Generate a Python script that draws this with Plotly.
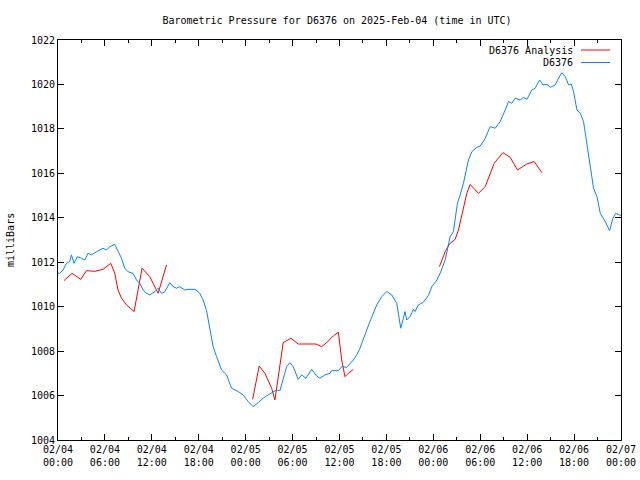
import pandas as pd
import plotly.graph_objects as go

BASE = pd.Timestamp("2025-02-04 00:00")

# Station observations (hours after 2025-02-04 00:00 UTC, pressure in mb)
obs_hours = [0.0, 0.2, 0.64, 1.08, 1.5, 1.72, 2.05, 2.48, 3.0, 3.42, 3.84, 4.28, 4.92, 5.34, 5.76,
             6.2, 6.62, 7.26, 7.68, 8.12, 8.54, 8.96, 9.6, 10.04, 10.46, 10.88, 11.32, 11.74,
             12.38, 12.8, 13.24, 13.66, 14.3, 14.72, 15.16, 15.58, 16.22, 16.64, 17.5, 18.14,
             18.56, 19.0, 19.42, 19.84, 20.28, 20.92, 21.56, 22.2, 23.04, 23.68, 24.32, 24.96,
             25.6, 26.24, 26.88, 27.52, 27.96, 28.38, 28.8, 29.24, 29.66, 30.08, 30.72, 31.16,
             31.71, 32.44, 33.08, 33.5, 34.14, 34.78, 35.0, 35.85, 36.28, 36.92, 37.77, 38.2,
             38.62, 39.05, 39.48, 39.9, 40.33, 40.76, 41.4, 42.04, 42.68, 43.32, 43.53, 43.83,
             44.17, 44.38, 44.6, 45.02, 45.45, 45.66, 46.09, 46.73, 47.37, 47.8, 48.45, 48.87,
             49.51, 50.15, 50.57, 51.08, 51.43, 51.85, 52.49, 52.93, 53.57, 54.0, 54.63, 55.27,
             55.91, 56.55, 57.19, 57.61, 58.04, 58.47, 59.1, 59.53, 59.96, 60.6, 61.03, 61.58,
             62.01, 62.53, 62.95, 63.59, 64.01, 64.44, 64.87, 65.29, 65.64, 65.93, 66.37, 66.79,
             67.21, 67.65, 68.07, 68.49, 68.93, 69.35, 69.99, 70.54, 70.97, 71.3, 71.81, 72.0]
obs_values = [1011.5, 1011.5, 1011.65, 1011.95, 1012.03, 1012.33, 1011.95, 1012.25, 1012.18, 1012.1,
              1012.4, 1012.33, 1012.47, 1012.55, 1012.63, 1012.55, 1012.7, 1012.8, 1012.47, 1012.18,
              1011.73, 1011.57, 1011.5, 1011.2, 1011.05, 1010.75, 1010.6, 1010.53, 1010.67, 1010.83,
              1010.6, 1010.67, 1011.08, 1010.9, 1010.83, 1010.9, 1010.75, 1010.78, 1010.78, 1010.6,
              1010.3, 1009.82, 1009.0, 1008.2, 1007.75, 1007.15, 1006.93, 1006.33, 1006.18, 1006.03,
              1005.73, 1005.5, 1005.68, 1005.88, 1006.03, 1006.18, 1006.25, 1006.22, 1006.7, 1007.3,
              1007.48, 1007.3, 1006.73, 1006.93, 1006.78, 1007.18, 1006.88, 1006.78, 1006.93, 1007.0,
              1007.12, 1007.12, 1007.3, 1007.27, 1007.6, 1007.83, 1008.13, 1008.5, 1008.95, 1009.33,
              1009.7, 1010.08, 1010.45, 1010.68, 1010.53, 1010.15, 1009.7, 1009.03, 1009.48, 1009.78,
              1009.4, 1009.55, 1009.88, 1009.78, 1010.08, 1010.2, 1010.5, 1010.9, 1011.2, 1011.5,
              1012.1, 1013.15, 1013.38, 1014.65, 1015.03, 1015.55, 1016.6, 1016.98, 1017.17, 1017.23,
              1017.57, 1018.1, 1018.03, 1018.33, 1018.85, 1019.23, 1019.15, 1019.38, 1019.3, 1019.42,
              1019.33, 1019.75, 1019.83, 1020.2, 1019.98, 1020.0, 1019.87, 1019.98, 1020.28, 1020.53,
              1020.35, 1019.98, 1020.02, 1019.68, 1018.85, 1018.7, 1018.33, 1017.28, 1016.3, 1015.33,
              1014.95, 1014.2, 1013.83, 1013.42, 1013.98, 1014.2, 1014.13, 1014.1]

# Analysis (None = gap)
ana_hours = [0.77, 1.79, 2.91, 3.64, 4.7, 5.76, 6.75, 7.26, 7.68, 8.12, 8.76, 9.73, 10.75, 11.74,
             12.8, 13.88, 19.0,
             24.89, 25.73, 26.46, 26.88, 27.32, 27.74, 28.16, 28.8, 29.79, 30.72, 31.8, 32.99,
             33.72, 34.36, 35.2, 35.85, 36.28, 36.7, 37.12, 37.77, 43.0,
             48.78, 49.51, 50.06, 50.79, 51.21, 51.77, 52.28, 52.71, 53.77, 54.63, 55.27, 55.78,
             56.89, 57.83, 58.76, 59.96, 60.9, 61.88]
ana_values = [1011.17, 1011.5, 1011.23, 1011.62, 1011.59, 1011.68, 1011.95, 1011.5, 1010.75, 1010.38,
              1010.08, 1009.78, 1011.73, 1011.35, 1010.6, 1011.88, None,
              1005.83, 1007.33, 1007.0, 1006.7, 1006.33, 1005.8, 1006.85, 1008.38, 1008.58, 1008.32,
              1008.32, 1008.32, 1008.2, 1008.38, 1008.68, 1008.85, 1007.6, 1006.85, 1007.0, 1007.18, None,
              1011.8, 1012.47, 1012.82, 1013.03, 1013.45, 1014.28, 1015.1, 1015.5, 1015.1, 1015.4,
              1016.0, 1016.45, 1016.93, 1016.72, 1016.15, 1016.42, 1016.53, 1016.03]

tick_hours = list(range(0, 73, 6))
y_ticks = list(range(1004, 1023, 2))

RED = "#ff0000"
BLUE = "#0a84f4"
FONT = "DejaVu Sans Mono"
FS = 10

def to_time(hours):
    return [BASE + pd.Timedelta(hours=h) for h in hours]

fig = go.Figure()
fig.add_trace(go.Scatter(x=to_time(ana_hours), y=ana_values, mode="lines",
                         line=dict(color=RED, width=1), name="D6376 Analysis",
                         connectgaps=False, showlegend=False))
fig.add_trace(go.Scatter(x=to_time(obs_hours), y=obs_values, mode="lines",
                         line=dict(color=BLUE, width=1), name="D6376", showlegend=False))

tick_vals = to_time(tick_hours)
tick_text = [t.strftime("%m/%d<br>%H:%M") for t in tick_vals]

fig.update_xaxes(range=[BASE, BASE + pd.Timedelta(hours=72)],
                 tickvals=tick_vals, ticktext=tick_text, automargin=False,
                 ticks="inside", ticklen=6, tickcolor="black",
                 minor=dict(dtick=3 * 3600 * 1000, ticks="inside", ticklen=3, tickcolor="black",
                            tick0=BASE),
                 showline=True, linecolor="black", linewidth=1, mirror="ticks",
                 showgrid=False, zeroline=False,
                 tickfont=dict(family=FONT, size=FS, color="black"))
fig.update_yaxes(range=[1004, 1022], tickvals=y_ticks, ticktext=[str(v) for v in y_ticks],
                 automargin=False,
                 ticks="inside", ticklen=6, tickcolor="black",
                 showline=True, linecolor="black", linewidth=1, mirror="ticks",
                 showgrid=False, zeroline=False,
                 tickfont=dict(family=FONT, size=FS, color="black"))

# Manual gnuplot-style legend (text, then line sample)
legend_items = [("D6376 Analysis", RED), ("D6376", BLUE)]
for i, (label, col) in enumerate(legend_items):
    yp = 1 - (10 + 12.5 * i) / 400
    fig.add_annotation(xref="paper", yref="paper", x=(574.5 - 58) / 563, y=yp,
                       text=label, showarrow=False, xanchor="right", yanchor="middle",
                       font=dict(family=FONT, size=FS, color="black"))
    fig.add_shape(type="line", xref="paper", yref="paper",
                  x0=(581 - 58) / 563, x1=(610 - 58) / 563, y0=yp, y1=yp,
                  line=dict(color=col, width=1))

fig.add_annotation(xref="paper", yref="paper", x=(10 - 58) / 563, y=0.5,
                   text="milliBars", textangle=-90, showarrow=False,
                   xanchor="center", yanchor="middle",
                   font=dict(family=FONT, size=FS, color="black"))

fig.update_layout(
    width=640, height=480,
    margin=dict(l=58, r=19, t=40, b=40),
    paper_bgcolor="white", plot_bgcolor="white",
    title=dict(text="Barometric Pressure for D6376 on 2025-Feb-04 (time in UTC)",
               x=337 / 640, xanchor="center", y=1 - 20 / 480, yanchor="middle",
               font=dict(family=FONT, size=FS, color="black")),
    showlegend=False,
)

fig.write_html("out.html")
